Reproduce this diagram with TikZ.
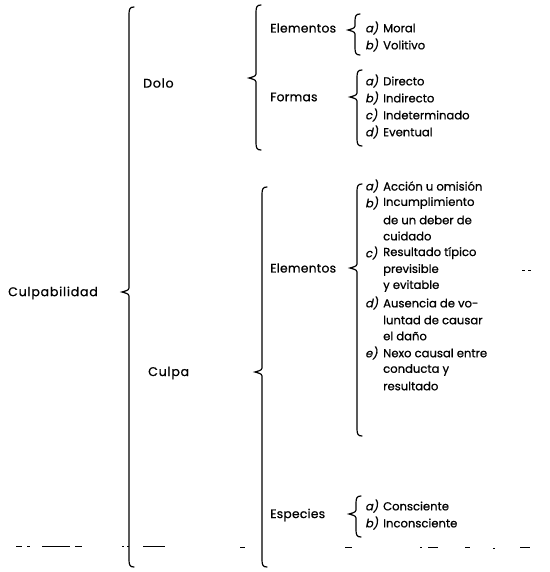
\documentclass[tikz,border=0pt]{standalone}
\usepackage{fontspec}
\setmainfont{Poppins}[FakeBold=0.7]
\newfontfamily\bigfont{Poppins}[LetterSpace=2,FakeBold=0.7]
\newfontfamily\widefont{Poppins}[LetterSpace=6,FakeBold=0.7]
\newfontfamily\labfont{Poppins}[FakeSlant=0.2,FakeBold=0.7]
\begin{document}
\begin{tikzpicture}[x=1pt,y=-1pt,
  txt/.style={anchor=west,inner sep=0pt,font=\fontsize{11.6}{12}\selectfont},
  head/.style={anchor=west,inner sep=0pt,font=\fontsize{12.3}{12}\selectfont\bigfont},
  whead/.style={anchor=west,inner sep=0pt,font=\fontsize{12.6}{12}\selectfont\widefont},
  lab/.style={anchor=west,inner sep=0pt,font=\fontsize{11.6}{12}\selectfont\labfont},
  brc/.style={line width=1.2pt,line cap=round},
  noise/.style={line width=1pt}]
\useasboundingbox (0,0) rectangle (549,572);
% brace macro: x, top, tip, bottom
\newcommand\cbrace[4]{%
  \draw[brc] (#1+5,#2) .. controls (#1+1,#2) and (#1,#2+2) .. (#1,#2+7)
    -- (#1,#3-6) .. controls (#1,#3-2) .. (#1-7,#3)
    .. controls (#1,#3+2) .. (#1,#3+6)
    -- (#1,#4-7) .. controls (#1,#4-2) and (#1+1,#4) .. (#1+5,#4);}
% level 1
\node[whead] (culpab) at (8,293) {Culpabilidad};
\cbrace{129}{7}{292}{567}
% level 2
\node[whead] (dolo) at (143,83) {Dolo};
\node[whead] (culpa) at (148,373) {Culpa};
\cbrace{256}{5}{78}{150}
\cbrace{262}{187}{372}{567}
% level 3
\node[head] (delem) at (270,28) {Elementos};
\node[head] (dform) at (270,97) {Formas};
\node[head] (celem) at (270,268) {Elementos};
\node[head] (cesp) at (270,515) {Especies};
\cbrace{355}{14}{30}{55}
\cbrace{357}{70}{97}{146}
\cbrace{357}{184}{268}{436}
\cbrace{356}{496}{514}{537}
% level 4 : dolo elementos
\node[lab] (m1l) at (365,28) {a)}; \node[txt] (m1) at (383,28) {Moral};
\node[lab] (m2l) at (365,45) {b)}; \node[txt] (m2) at (383,45) {Volitivo};
% dolo formas
\node[lab] (f1l) at (365,81) {a)}; \node[txt] (f1) at (383,81) {Directo};
\node[lab] (f2l) at (365,98) {b)}; \node[txt] (f2) at (383,98) {Indirecto};
\node[lab] (f3l) at (365,115) {c)}; \node[txt] (f3) at (383,115) {Indeterminado};
\node[lab] (f4l) at (365,132) {d)}; \node[txt] (f4) at (383,132) {Eventual};
% culpa elementos
\node[lab] (e1l) at (365,186) {a)}; \node[txt] (e1) at (383,186) {Acción u omisión};
\node[lab] (e2l) at (365,203) {b)}; \node[txt] (e2) at (383,203) {Incumplimiento};
\node[txt] (e2b) at (383,220) {de un deber de};
\node[txt] (e2c) at (383,236) {cuidado};
\node[lab] (e3l) at (365,253) {c)}; \node[txt] (e3) at (383,253) {Resultado típico};
\node[txt] (e3b) at (383,270) {previsible};
\node[txt] (e3c) at (383,286) {y evitable};
\node[lab] (e4l) at (365,303) {d)}; \node[txt] (e4) at (383,303) {Ausencia de vo-};
\node[txt] (e4b) at (383,320) {luntad de causar};
\node[txt] (e4c) at (383,336) {el daño};
\node[lab] (e5l) at (365,353) {e)}; \node[txt] (e5) at (383,353) {Nexo causal entre};
\node[txt] (e5b) at (383,370) {conducta y};
\node[txt] (e5c) at (383,386) {resultado};
% culpa especies
\node[lab] (s1l) at (365,506) {a)}; \node[txt] (s1) at (383,506) {Consciente};
\node[lab] (s2l) at (365,523) {b)}; \node[txt] (s2) at (383,523) {Inconsciente};
% scan marks
\draw[noise] (16,546) -- (22,546) (27,546) -- (30,546) (42,546) -- (70,546) (75,546) -- (82,546)
  (122,546) -- (124,546) (127,546) -- (129,546) (143,546) -- (165,546) (240,547) -- (245,547)
  (345,547) -- (352,547) (420,547) -- (422,547) (428,547) -- (438,547) (465,547) -- (470,547)
  (493,548) -- (495,548) (520,547) -- (530,547)
  (522,270) -- (525,270) (528,270) -- (531,270);
\end{tikzpicture}
\end{document}
